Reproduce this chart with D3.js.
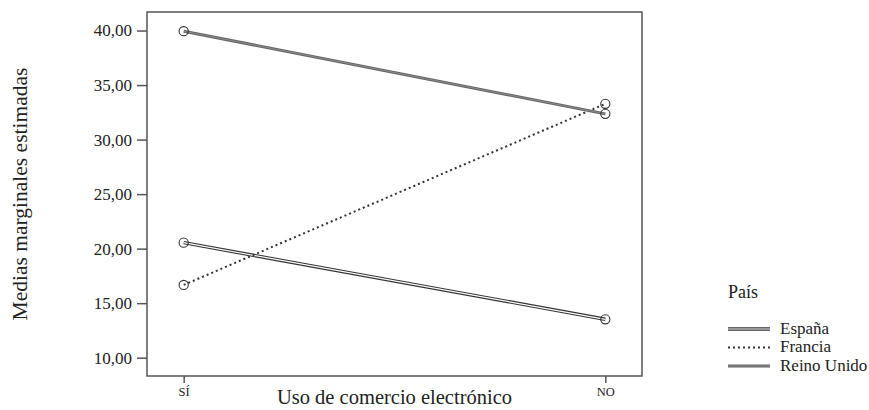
<!DOCTYPE html>
<html>
<head>
<meta charset="utf-8">
<script src="https://cdn.jsdelivr.net/npm/d3@7"></script>
<style>
  body { margin: 0; background: #fff; }
  text { font-family: "Liberation Serif", "DejaVu Serif", serif; fill: #222; }
</style>
</head>
<body>
<svg id="chart" width="869" height="410"></svg>
<script>
// categories and series
var categories = ["SÍ", "NO"];
var espana = [20.55, 13.52];
var francia = [16.67, 33.28];
var reinoUnido = [39.94, 32.36];
var yTicks = [10, 15, 20, 25, 30, 35, 40];
var seriesNames = ["España", "Francia", "Reino Unido"];

var series = [
  { name: seriesNames[0], values: espana, style: "double" },
  { name: seriesNames[1], values: francia, style: "dotted" },
  { name: seriesNames[2], values: reinoUnido, style: "gray" }
];

var svg = d3.select("#chart");
var plotLeft = 147, plotRight = 642, plotTop = 12, plotBottom = 376;
var serif = "'Liberation Serif', 'DejaVu Serif', serif";

var x = d3.scalePoint().domain(categories).range([plotLeft, plotRight]).padding(0.087);
var y = d3.scaleLinear().domain([8.32, 41.7]).range([plotBottom, plotTop]);

var fmt = function (d) { return d3.format(".2f")(d).replace(".", ","); };

// frame
svg.append("rect")
  .attr("x", plotLeft).attr("y", plotTop)
  .attr("width", plotRight - plotLeft).attr("height", plotBottom - plotTop)
  .attr("fill", "none").attr("stroke", "#555").attr("stroke-width", 1.5);

// y axis
var yAxis = d3.axisLeft(y).tickValues(yTicks).tickFormat(fmt).tickSize(10).tickPadding(5);
var gy = svg.append("g").attr("transform", "translate(" + plotLeft + ",0)").call(yAxis);
gy.attr("font-family", serif);
gy.select(".domain").remove();
gy.selectAll("line").attr("stroke", "#555").attr("stroke-width", 1.5);
gy.selectAll("text").style("font-size", "17px").style("font-family", serif).attr("fill", "#222");

// x axis
var xAxis = d3.axisBottom(x).tickSize(7).tickPadding(4);
var gx = svg.append("g").attr("transform", "translate(0," + plotBottom + ")").call(xAxis);
gx.attr("font-family", serif);
gx.select(".domain").remove();
gx.selectAll("line").attr("stroke", "#555").attr("stroke-width", 1.5);
gx.selectAll("text").style("font-size", "12.5px").style("font-family", serif).attr("fill", "#222");

// axis titles
svg.append("text")
  .attr("x", (plotLeft + plotRight) / 2).attr("y", 404)
  .attr("text-anchor", "middle").style("font-size", "20.5px")
  .text("Uso de comercio electrónico");

svg.append("text")
  .attr("transform", "translate(27," + ((plotTop + plotBottom) / 2) + ") rotate(-90)")
  .attr("text-anchor", "middle").style("font-size", "21.5px")
  .text("Medias marginales estimadas");

var line = d3.line()
  .x(function (d, i) { return x(categories[i]); })
  .y(function (d) { return y(d); });

function drawStroke(g, d, style) {
  if (style == "double") {
    g.append("path").attr("d", d).attr("fill", "none").attr("stroke", "#333").attr("stroke-width", 3.4);
    g.append("path").attr("d", d).attr("fill", "none").attr("stroke", "#fff").attr("stroke-width", 1.2);
  } else if (style == "dotted") {
    g.append("path").attr("d", d).attr("fill", "none").attr("stroke", "#333")
      .attr("stroke-width", 2).attr("stroke-dasharray", "2,3");
  } else {
    g.append("path").attr("d", d).attr("fill", "none").attr("stroke", "#666").attr("stroke-width", 3);
    g.append("path").attr("d", d).attr("fill", "none").attr("stroke", "#8a8a8a").attr("stroke-width", 1);
  }
}

var lines = svg.append("g");
series.forEach(function (s) {
  var g = lines.append("g");
  drawStroke(g, line(s.values), s.style);
  g.selectAll("circle").data(s.values).enter().append("circle")
    .attr("cx", function (d, i) { return x(categories[i]); })
    .attr("cy", function (d) { return y(d); })
    .attr("r", 4.6)
    .attr("fill", "none").attr("stroke", "#333").attr("stroke-width", 1.1);
});

// legend
var legend = svg.append("g").attr("transform", "translate(728,0)");
legend.append("text").attr("x", 0).attr("y", 298).style("font-size", "18px").text("País");

var ly = d3.scalePoint().domain(seriesNames).range([329, 366]);
series.forEach(function (s) {
  var yy = ly(s.name);
  var g = legend.append("g");
  drawStroke(g, "M0," + yy + "H42", s.style);
  g.append("text").attr("x", 52).attr("y", yy + 4.5).style("font-size", "17px").text(s.name);
});
</script>
</body>
</html>
